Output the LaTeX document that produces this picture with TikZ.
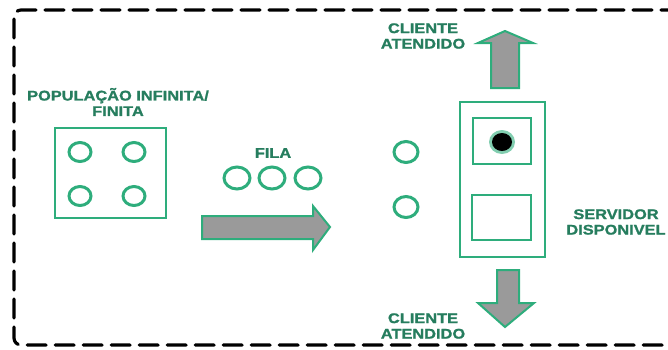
\documentclass[tikz,border=0pt]{standalone}
\usepackage{fontspec}
\usetikzlibrary{shapes.geometric}
\newfontfamily\lblfont[FakeStretch=1.17,BoldFeatures={FakeBold=1.2}]{Liberation Sans}
\definecolor{shapegreen}{HTML}{2EAD7C}
\definecolor{textgreen}{HTML}{267D5E}
\definecolor{arrowgray}{HTML}{9A9A9A}
\begin{document}
\begin{tikzpicture}[x=1pt,y=-1pt,
  lbl/.style={text=textgreen,font=\lblfont\bfseries\fontsize{14}{15.5}\selectfont,align=center,inner sep=0pt},
  gcirc/.style={draw=shapegreen,line width=3pt,ellipse,minimum width=22pt,minimum height=19pt,inner sep=0pt},
  gbox/.style={draw=shapegreen,line width=2.8pt,rectangle,inner sep=0pt},
  fatarrow/.style={draw=shapegreen,line width=2pt,fill=arrowgray,line join=miter}
]
\useasboundingbox (0,0) rectangle (668,349);
% dashed frame
\draw[line width=3.2pt,dash pattern=on 19pt off 9pt,rounded corners=7pt,line cap=round]
  (680,10) -- (14,10) -- (14,345) -- (680,345);

% population
\node[lbl] (poptxt) at (118,102) {POPULAÇÃO INFINITA/\\FINITA};
\node[gbox,minimum width=111pt,minimum height=90pt] (popbox) at (110.5,173) {};
\node[gcirc] (p1) at (80,152) {};
\node[gcirc] (p2) at (134,152) {};
\node[gcirc] (p3) at (80,196) {};
\node[gcirc] (p4) at (134,196) {};

% queue
\node[lbl] (filatxt) at (273,153) {FILA};
\node[gcirc,minimum width=26pt,minimum height=22pt] (q1) at (237,178) {};
\node[gcirc,minimum width=26pt,minimum height=22pt] (q2) at (272,178) {};
\node[gcirc,minimum width=26pt,minimum height=22pt] (q3) at (308,178) {};

% big right arrow
\draw[fatarrow] (202,216) -- (313,216) -- (313,206) -- (330,227) -- (313,250) -- (313,239) -- (202,239) -- cycle;

% waiting clients
\node[gcirc,minimum width=24pt,minimum height=21pt] (w1) at (406,152) {};
\node[gcirc,minimum width=24pt,minimum height=21pt] (w2) at (406,207) {};

% server
\node[gbox,minimum width=85pt,minimum height=155pt] (srv) at (502.5,179.5) {};
\node[gbox,minimum width=58pt,minimum height=46pt] (slot1) at (502,141) {};
\node[gbox,minimum width=59pt,minimum height=45pt] (slot2) at (501.5,217.5) {};
\fill[shapegreen!60] (502,142) ellipse (13pt and 12pt);
\fill[black] (502,142) ellipse (10pt and 9pt);

% up arrow
\draw[fatarrow] (491,88) -- (491,43) -- (478,43) -- (505,31) -- (533,43) -- (519,43) -- (519,88) -- cycle;
\node[lbl] (up) at (423,36) {CLIENTE\\ATENDIDO};

% down arrow
\draw[fatarrow] (497,270) -- (497,303) -- (478,303) -- (505,327) -- (534,303) -- (519,303) -- (519,270) -- cycle;
\node[lbl] (down) at (423,326) {CLIENTE\\ATENDIDO};

% server label
\node[lbl] (srvtxt) at (616,222) {SERVIDOR\\DISPONIVEL};
\end{tikzpicture}
\end{document}
